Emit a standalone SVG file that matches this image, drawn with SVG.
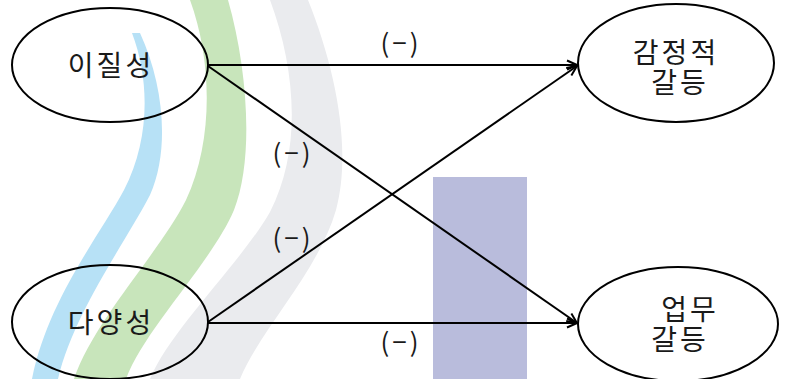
<svg xmlns="http://www.w3.org/2000/svg" width="791" height="379" viewBox="0 0 791 379">
<style>
  .node ellipse { fill: none; stroke: #000; stroke-width: 2; }
  .node text, .lbl { font-family: "Noto Sans CJK KR", "Noto Sans", sans-serif; fill: #1a1a1a; text-anchor: middle; }
  .node text { font-size: 28px; letter-spacing: 3px; }
  .lbl { font-size: 26px; letter-spacing: 3px; }
  .edge { stroke: #000; stroke-width: 2; fill: none; marker-end: url(#arr); }
</style>
<defs>
  <marker id="arr" viewBox="0 0 12 12" refX="11" refY="6" markerWidth="12" markerHeight="12" markerUnits="userSpaceOnUse" orient="auto">
    <path d="M1,1.5 L11,6 L1,10.5" fill="none" stroke="#000" stroke-width="2"/>
  </marker>
</defs>
<rect width="791" height="379" fill="#fff"/>
<g id="watermark">
  <path d="M132,33 C150,80 150,140 124,190 C98,238 48,300 32,379 L58,379 C74,312 124,245 150,195 C170,150 164,85 140,33 Z" fill="#b7e1f6"/>
  <path d="M190,0 C212,60 214,140 186,200 C160,252 94,320 74,379 L126,379 C144,330 212,262 234,210 C254,160 248,70 228,0 Z" fill="#c8e5bb"/>
  <path d="M270,0 C296,70 302,150 270,212 C240,264 170,330 150,379 L240,379 C260,330 318,272 336,210 C352,150 336,70 308,0 Z" fill="#eaebee"/>
  <rect x="433" y="177" width="94" height="202" fill="#b9bcdc"/>
</g>
<g id="connectors">
  <line class="edge" x1="208" y1="65" x2="577" y2="65"/>
  <line class="edge" x1="208" y1="66" x2="577" y2="323"/>
  <line class="edge" x1="208" y1="322" x2="577" y2="66"/>
  <line class="edge" x1="208" y1="323" x2="577" y2="323"/>
  <text class="lbl" x="401" y="53">(−)</text>
  <text class="lbl" x="293" y="163">(−)</text>
  <text class="lbl" x="293" y="248">(−)</text>
  <text class="lbl" x="401" y="352">(−)</text>
</g>
<g id="n1" class="node">
  <ellipse cx="110" cy="65" rx="98" ry="57"/>
  <text x="111" y="76">이질성</text>
</g>
<g id="n2" class="node">
  <ellipse cx="110" cy="322" rx="98" ry="57"/>
  <text x="111" y="333">다양성</text>
</g>
<g id="n3" class="node">
  <ellipse cx="676" cy="63" rx="98" ry="59"/>
  <text><tspan x="676" y="63">감정적</tspan><tspan x="680" y="93">갈등</tspan></text>
</g>
<g id="n4" class="node">
  <ellipse cx="678" cy="324" rx="100" ry="57"/>
  <text><tspan x="690" y="320">업무</tspan><tspan x="680" y="350">갈등</tspan></text>
</g>
</svg>
